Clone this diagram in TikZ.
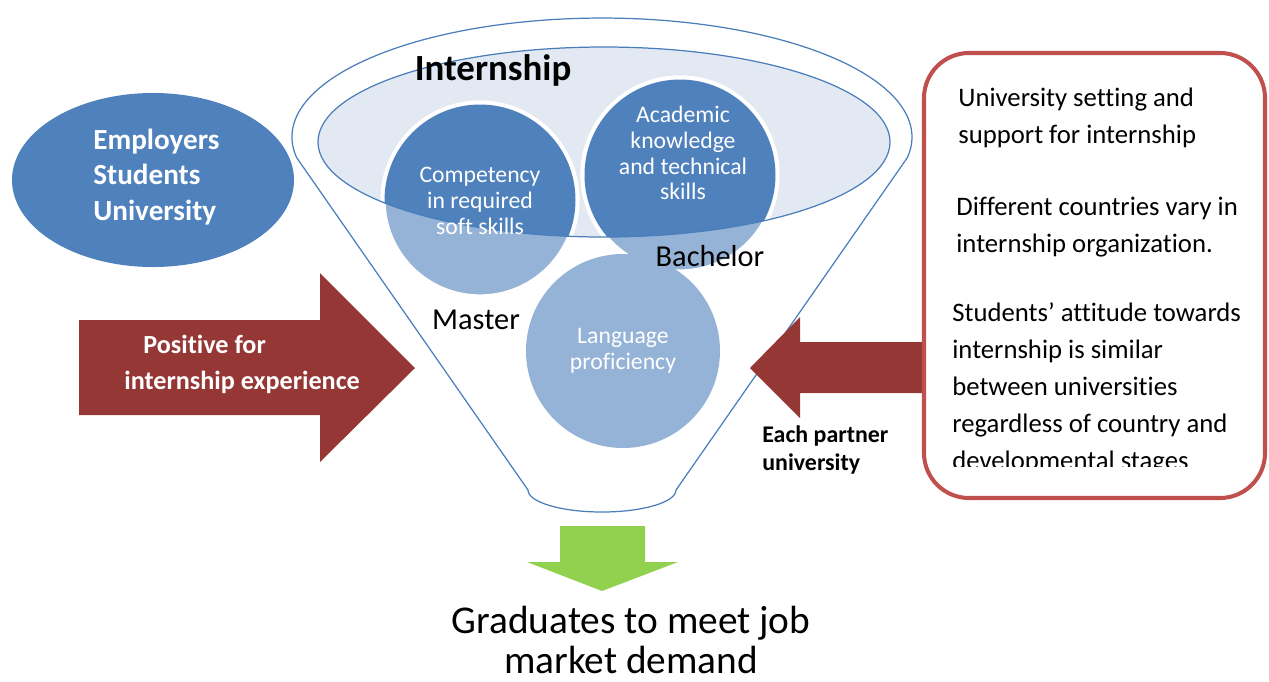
\documentclass[tikz,border=0pt]{standalone}
\usepackage{fontspec}
\setmainfont{Carlito}[Ligatures=NoCommon]
\usepackage{xcolor}
\usetikzlibrary{positioning}

\definecolor{blueDark}{HTML}{4F81BD}
\definecolor{blueLight}{HTML}{95B3D7}
\definecolor{blueLine}{HTML}{4A7EBB}
\definecolor{innerFill}{HTML}{E3E9F3}
\definecolor{redArrow}{HTML}{953735}
\definecolor{redBox}{HTML}{C0504D}
\definecolor{greenArrow}{HTML}{92D050}

\begin{document}
\begin{tikzpicture}[x=0.02cm, y=0.02cm,
  funnel/.style={draw=blueLine, line width=0.7pt},
  bubbletext/.style={align=center, text=white, inner sep=0pt, font=\fontsize{13.5}{14.7}\selectfont},
  stagetext/.style={inner sep=0pt, font=\fontsize{17.3}{20}\selectfont},
  boxtext/.style={align=left, anchor=west, inner sep=0pt, font=\fontsize{15.2}{21}\selectfont}]
  \useasboundingbox (0,0) rectangle (1269,-681);

  % Funnel
  \draw[funnel] (296.7,-157.7) arc[start angle=190, end angle=-10, x radius=310, y radius=119]
    -- (676,-490) arc[start angle=0, end angle=-180, x radius=74, y radius=22] -- cycle;
  \fill[innerFill] (604,-142) ellipse[x radius=286, y radius=95];

  % Bubbles
  \coordinate (comp) at (480,-200);
  \coordinate (acad) at (680,-175);
  \coordinate (lang) at (623,-351);
  \draw[white, line width=3pt, fill=blueLight] (comp) circle[radius=97];
  \draw[white, line width=3pt, fill=blueLight] (acad) circle[radius=97];
  \begin{scope}
    \clip (604,-142) ellipse[x radius=286, y radius=95];
    \fill[blueDark] (comp) circle[radius=95.5];
    \fill[blueDark] (acad) circle[radius=95.5];
  \end{scope}
  \draw[funnel] (604,-142) ellipse[x radius=286, y radius=95];
  \fill[blueLight] (lang) circle[radius=97];

  \node[bubbletext] (compText) at (480,-201) {Competency\\in required\\soft skills};
  \node[bubbletext] (acadText) at (683,-153) {Academic\\knowledge\\and technical\\skills};
  \node[bubbletext] (langText) at (623,-351) {Language\\proficiency};

  \node[inner sep=0pt, font=\fontsize{21}{24}\selectfont\bfseries] (intern) at (493,-70) {Internship};
  \node[stagetext] (bachelor) at (710,-256) {Bachelor};
  \node[stagetext] (master) at (476,-320) {Master};

  % Stakeholders
  \fill[blueDark] (153,-180) ellipse[x radius=141, y radius=87];
  \node[align=left, anchor=west, inner sep=0pt, text=white, font=\fontsize{16.6}{20.4}\selectfont\bfseries]
    (actors) at (93,-177) {Employers\\Students\\University};

  % Arrow in
  \fill[redArrow] (79,-320) -- (320,-320) -- (320,-273) -- (415,-368) -- (320,-462)
    -- (320,-415) -- (79,-415) -- cycle;
  \node[align=left, anchor=west, inner sep=0pt, text=white, font=\fontsize{14.9}{20.4}\selectfont\bfseries]
    (positive) at (124,-364) {\hspace*{0.38cm}Positive for\\internship experience};

  % Arrow from partners
  \fill[redArrow] (750,-368) -- (800,-317) -- (800,-342) -- (926,-342) -- (926,-393)
    -- (800,-393) -- (800,-418) -- cycle;
  \node[align=left, anchor=west, inner sep=0pt, font=\fontsize{13.6}{15.9}\selectfont\bfseries]
    (partner) at (762,-450) {Each partner\\university};

  % Box
  \draw[redBox, line width=2.3pt, fill=white, rounded corners=0.9cm] (924,-53) rectangle (1265,-498);
  \node[boxtext] (setting) at (958,-117.5) {University setting and\\support for internship};
  \node[boxtext] (countries) at (956,-227.5) {Different countries vary in\\internship organization.};
  \begin{scope}
    \clip (930,-290) rectangle (1260,-466);
    \node[boxtext] (attitude) at (952,-388.5) {Students’ attitude towards\\internship is similar\\between universities\\regardless of country and\\developmental stages};
  \end{scope}

  % Output
  \fill[greenArrow] (560,-526) -- (645,-526) -- (645,-562) -- (678,-562) -- (602,-591)
    -- (527,-562) -- (560,-562) -- cycle;
  \node[align=center, inner sep=0pt, font=\fontsize{22.4}{22.7}\selectfont] (graduates) at (631,-640)
    {Graduates to meet job\\market demand};
\end{tikzpicture}
\end{document}
